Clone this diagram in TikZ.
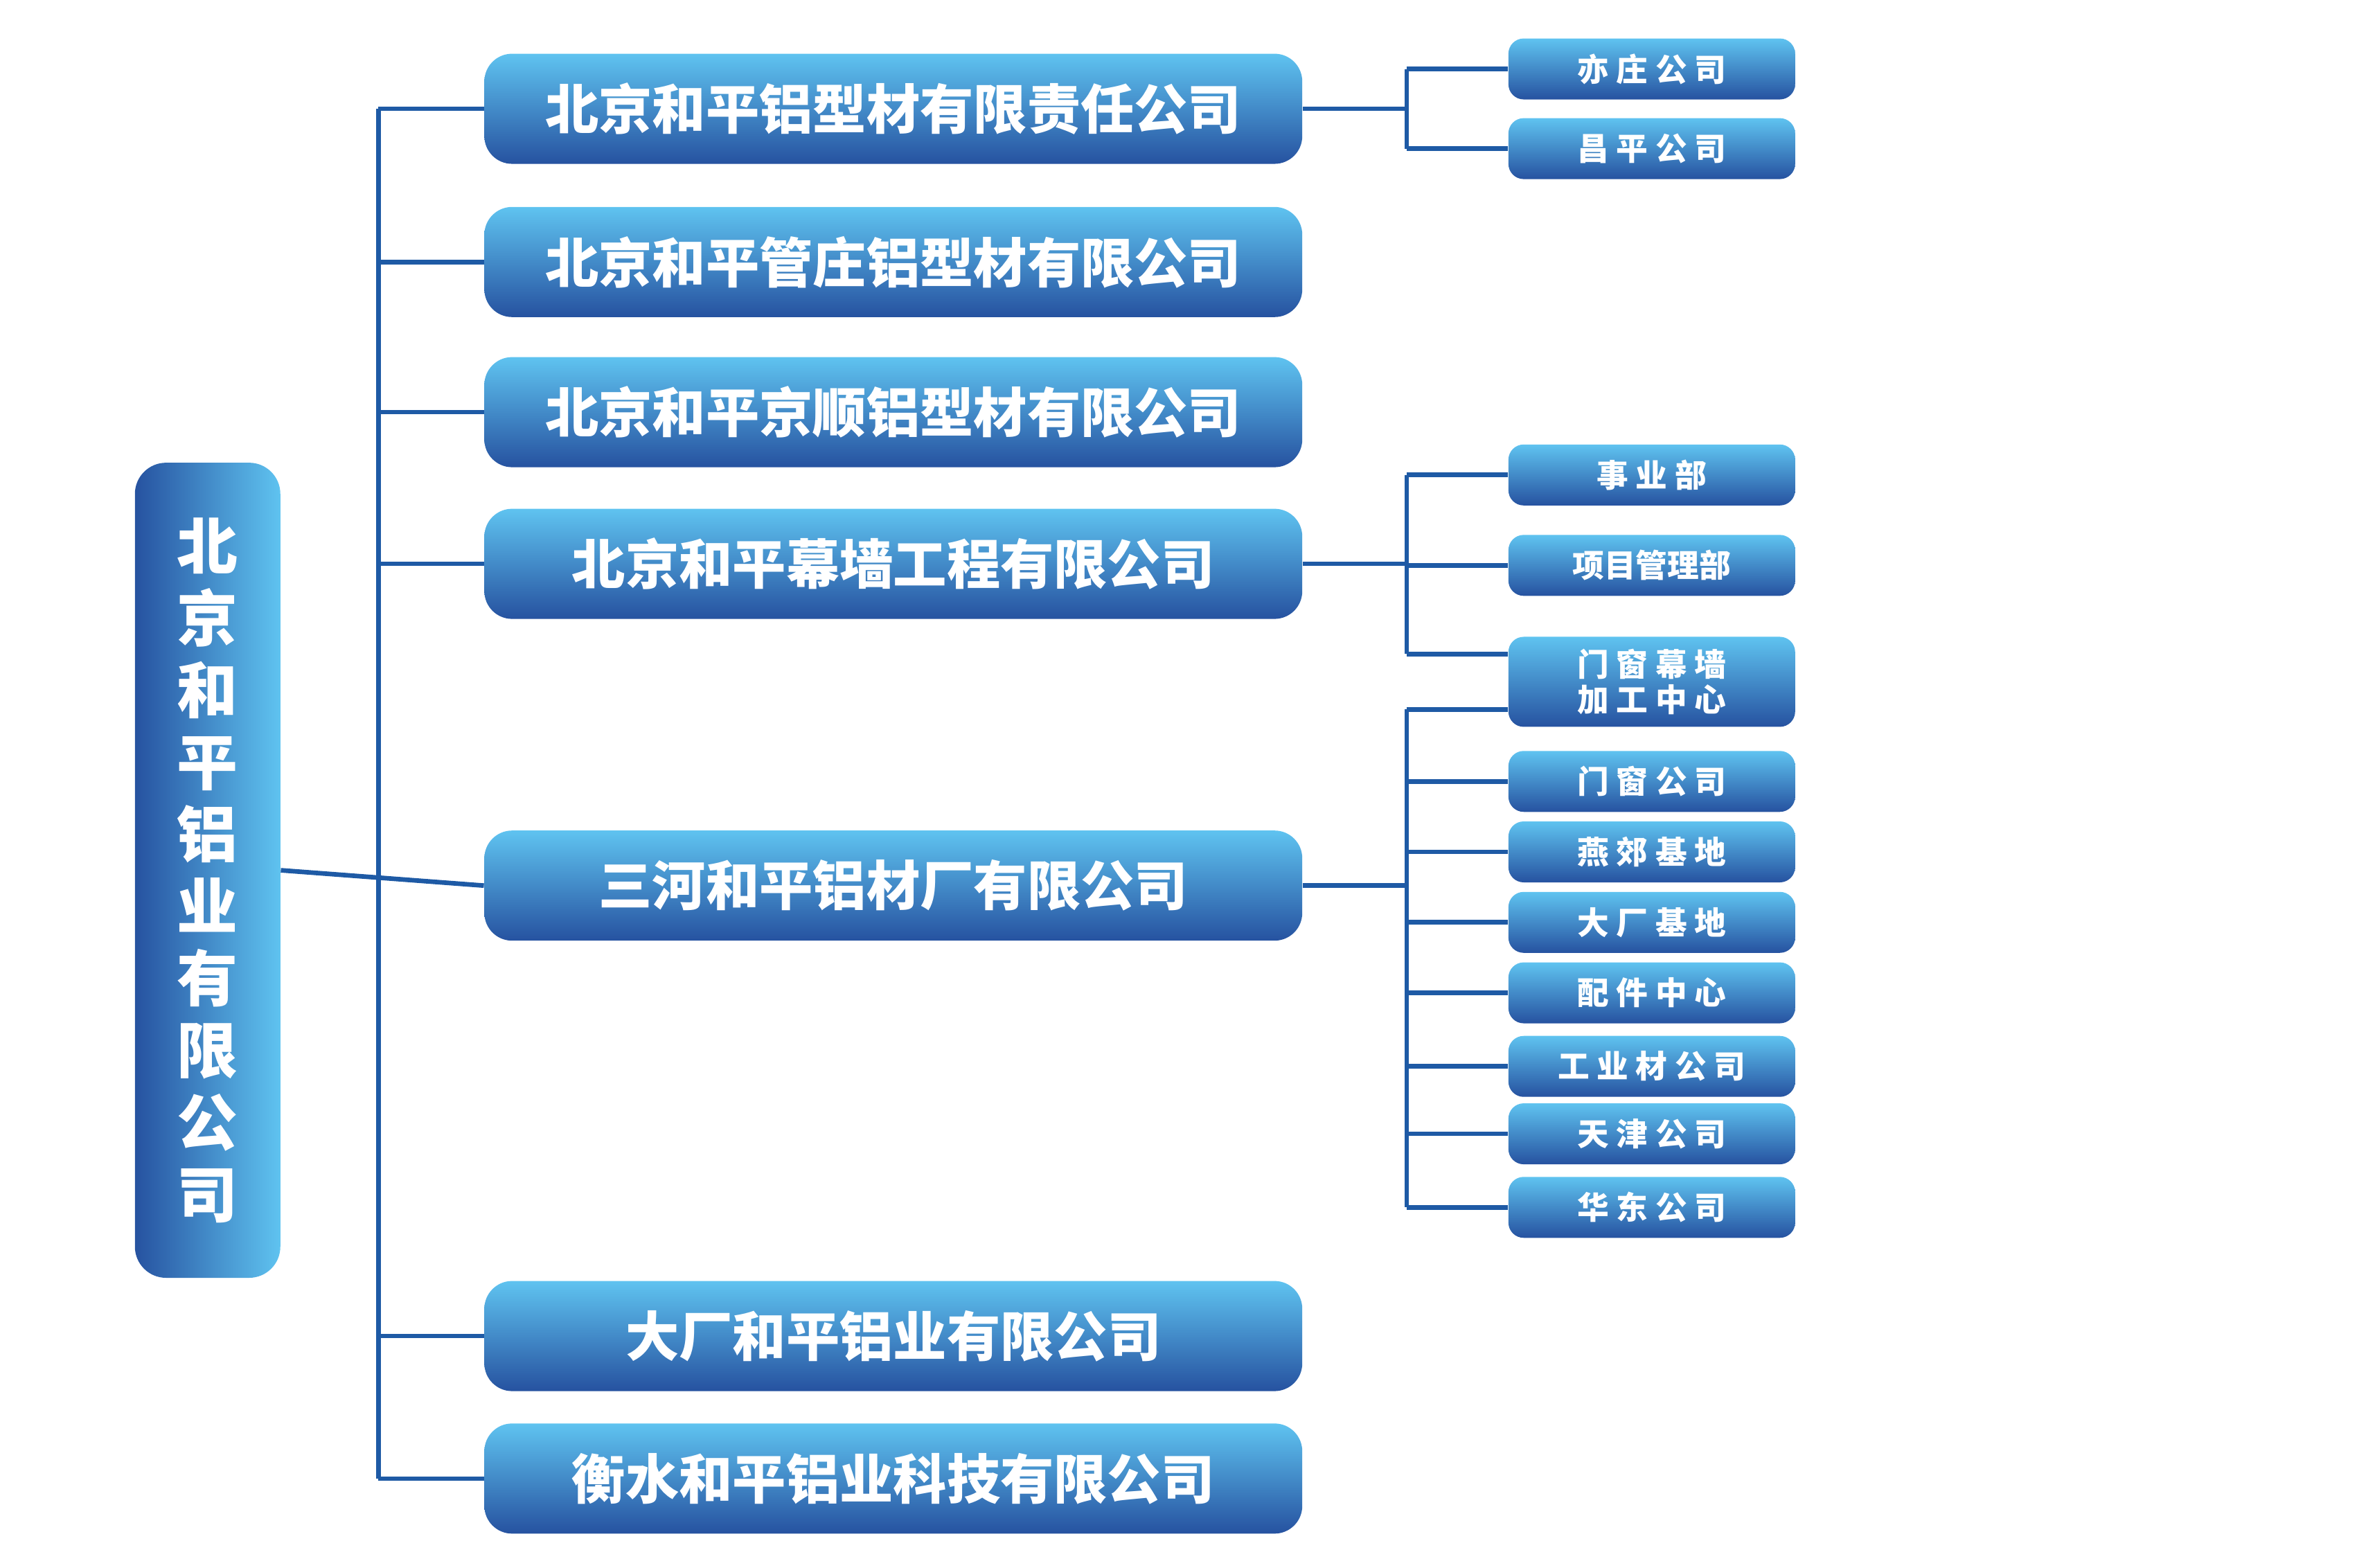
\documentclass[tikz,border=0pt]{standalone}
\usepackage{fontspec}
\newfontfamily\cjk{Noto Sans CJK SC}
\usetikzlibrary{positioning,calc}
\definecolor{lineblue}{RGB}{30,90,165}
\definecolor{boxlight}{RGB}{95,195,240}
\definecolor{boxdark}{RGB}{38,82,160}
\begin{document}
\begin{tikzpicture}[
    x=0.02212cm, y=-0.02212cm,
    link/.style={draw=lineblue, line width=1.9pt},
    box/.style={rounded corners=0.3cm, top color=boxlight, bottom color=boxdark,
        text=white, inner sep=0pt, font=\cjk\bfseries},
    mid/.style={box, minimum width=11.81cm, minimum height=1.59cm,
        rounded corners=0.4cm, font=\cjk\bfseries\fontsize{22}{26}\selectfont},
    small/.style={box, minimum width=4.14cm, minimum height=0.88cm,
        rounded corners=0.22cm, font=\cjk\bfseries\fontsize{13}{14}\selectfont},
]
    \useasboundingbox (0,0) rectangle (1550,1023);

    % root
    \node [box, left color=boxdark, right color=boxlight, rounded corners=0.45cm,
        minimum width=2.1cm, minimum height=11.77cm, align=center,
        font=\cjk\bfseries\fontsize{25}{29.6}\selectfont] (root) at (135.5,568)
        {北\\京\\和\\平\\铝\\业\\有\\限\\公\\司};

    % subsidiaries
    \node [mid] (m1) at (583,71)  {北京和平铝型材有限责任公司};
    \node [mid] (m2) at (583,171) {北京和平管庄铝型材有限公司};
    \node [mid] (m3) at (583,269) {北京和平京顺铝型材有限公司};
    \node [mid] (m4) at (583,368) {北京和平幕墙工程有限公司};
    \node [mid] (m5) at (583,578) {三河和平铝材厂有限公司};
    \node [mid] (m6) at (583,872) {大厂和平铝业有限公司};
    \node [mid] (m7) at (583,965) {衡水和平铝业科技有限公司};

    % branches
    \node [small] (yz) at (1078,45)  {亦 庄 公 司};
    \node [small] (cp) at (1078,97)  {昌 平 公 司};
    \node [small] (sy) at (1078,310) {事 业 部};
    \node [small] (xm) at (1078,369) {项目管理部};
    \node [small, minimum height=1.3cm, align=center,
        font=\cjk\bfseries\fontsize{13}{14.5}\selectfont] (jg) at (1078,445)
        {门 窗 幕 墙\\加 工 中 心};
    \node [small] (mc) at (1078,510) {门 窗 公 司};
    \node [small] (yj) at (1078,556) {燕 郊 基 地};
    \node [small] (dc) at (1078,602) {大 厂 基 地};
    \node [small] (pj) at (1078,648) {配 件 中 心};
    \node [small] (gy) at (1078,696) {工 业 材 公 司};
    \node [small] (tj) at (1078,740) {天 津 公 司};
    \node [small] (hd) at (1078,788) {华 东 公 司};

    \coordinate (trunk) at (247,0);
    \coordinate (bus) at (918,0);
    \coordinate (jg up) at ([yshift=0.4cm]jg.west);
    \coordinate (jg down) at ([yshift=-0.4cm]jg.west);

    % trunk
    \draw [link] (root.east) -- (m5.west);
    \draw [link] (trunk |- m1.west) -- (trunk |- m7.west);
    \foreach \m in {m1,m2,m3,m4,m6,m7}
        \draw [link] (trunk |- \m.west) -- (\m.west);

    % group 1
    \draw [link] (m1.east) -- (bus |- m1.east);
    \draw [link] (bus |- yz.west) -- (bus |- cp.west);
    \foreach \s in {yz,cp}
        \draw [link] (bus |- \s.west) -- (\s.west);

    % group 4
    \draw [link] (m4.east) -- (bus |- m4.east);
    \draw [link] (bus |- sy.west) -- (bus |- jg up);
    \foreach \s in {sy,xm,jg up}
        \draw [link] (bus |- \s) -- (\s);

    % group 5
    \draw [link] (m5.east) -- (bus |- m5.east);
    \draw [link] (bus |- jg down) -- (bus |- hd.west);
    \draw [link] (bus |- jg down) -- (jg down);
    \foreach \s in {mc,yj,dc,pj,gy,tj,hd}
        \draw [link] (bus |- \s.west) -- (\s.west);
\end{tikzpicture}
\end{document}
